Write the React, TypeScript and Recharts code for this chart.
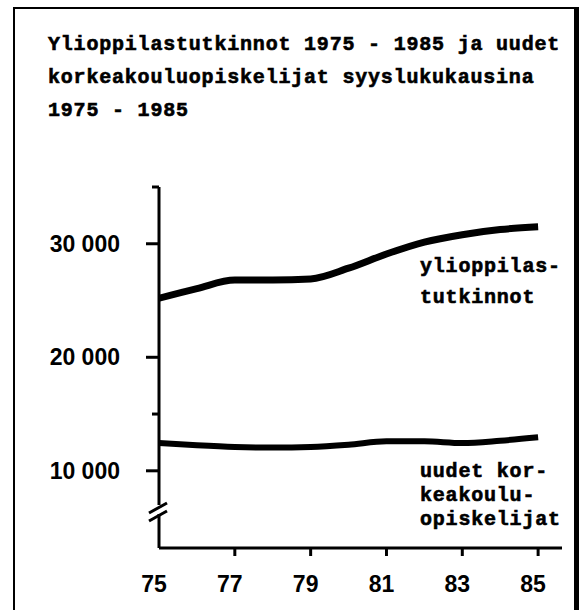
import React from 'react';
import { LineChart, Line, XAxis, YAxis } from 'recharts';

const years = [75, 76, 77, 78, 79, 80, 81, 82, 83, 84, 85];
const ylioppilastutkinnot = [25200, 26050, 26800, 26800, 26900, 27850, 29100, 30150, 30800, 31250, 31500];
const uudetOpiskelijat = [12450, 12250, 12100, 12050, 12100, 12300, 12600, 12600, 12450, 12650, 12950];
const xTicks = [75, 77, 79, 81, 83, 85];
const yTicks = [10000, 15000, 20000, 30000, 35000];
const yLabelled = [10000, 20000, 30000];
const titleLines = [
  'Ylioppilastutkinnot 1975 - 1985 ja uudet',
  'korkeakouluopiskelijat syyslukukausina',
  '1975 - 1985',
];
const upperLabel = ['ylioppilas-', 'tutkinnot'];
const lowerLabel = ['uudet kor-', 'keakoulu-', 'opiskelijat'];

const rows = years.map((y, i) => ({ year: y, yo: ylioppilastutkinnot[i], uk: uudetOpiskelijat[i] }));

const W = 582;
const H = 610;
const MARGIN = { top: 187, right: 20, bottom: 22, left: 99 };
const YW = 60;
const XH = 40;
const AXIS_X = MARGIN.left + YW;
const AXIS_Y = H - MARGIN.bottom - XH;

const monoFont = '"Liberation Mono", "DejaVu Sans Mono", monospace';
const sansFont = '"Liberation Sans", Arial, sans-serif';

const fmt = (v: number) => {
  const s = String(v);
  return s.slice(0, s.length - 3) + ' ' + s.slice(-3);
};

const XTick = (props: any) => {
  const { x, payload } = props;
  const v = payload.value;
  return (
    <g>
      {v !== 75 && <line x1={x} x2={x} y1={AXIS_Y} y2={AXIS_Y + 8} stroke="#000" strokeWidth={3} />}
      <text x={x - 5} y={AXIS_Y + 44} textAnchor="middle" fontFamily={sansFont} fontWeight="bold" fontSize={23} fill="#000">
        {v}
      </text>
    </g>
  );
};

const YTick = (props: any) => {
  const { y, payload } = props;
  const v = payload.value;
  const long = yLabelled.includes(v);
  return (
    <g>
      <line x1={AXIS_X - (long ? 13 : 7)} x2={AXIS_X} y1={y} y2={y} stroke="#000" strokeWidth={3} />
      {long && (
        <text x={120} y={y + 8} textAnchor="end" fontFamily={sansFont} fontWeight="bold" fontSize={23} fill="#000">
          {fmt(v)}
        </text>
      )}
    </g>
  );
};

const textStyle = {
  fontFamily: monoFont,
  fontWeight: 'bold' as const,
  fontSize: 20,
  letterSpacing: 0.8,
  stroke: '#000',
  strokeWidth: 0.6,
};

export default function App() {
  return (
    <div style={{ position: 'absolute', left: 0, top: 0, width: W, height: H, background: '#fff' }}>
      <LineChart width={W} height={H} data={rows} margin={MARGIN}>
        <XAxis
          dataKey="year"
          type="number"
          domain={[75, 85.63]}
          ticks={xTicks}
          interval={0}
          height={XH}
          allowDataOverflow
          axisLine={{ stroke: '#000', strokeWidth: 3 }}
          tickLine={false}
          tick={<XTick />}
        />
        <YAxis
          type="number"
          domain={[3200, 35000]}
          ticks={yTicks}
          interval={0}
          width={YW}
          allowDataOverflow
          axisLine={{ stroke: '#000', strokeWidth: 3 }}
          tickLine={false}
          tick={<YTick />}
        />
        <Line dataKey="yo" type="monotone" stroke="#000" strokeWidth={7} dot={false} isAnimationActive={false} />
        <Line dataKey="uk" type="monotone" stroke="#000" strokeWidth={6} dot={false} isAnimationActive={false} />
      </LineChart>
      <svg width={W} height={H} style={{ position: 'absolute', left: 0, top: 0, pointerEvents: 'none' }}>
        <rect x={13} y={7} width={2} height={H - 7} fill="#000" />
        <rect x={13} y={7} width={565} height={2} fill="#000" />
        <rect x={574} y={7} width={5} height={H - 7} fill="#000" />
        {titleLines.map((t, i) => (
          <text key={i} x={48} y={50 + i * 33} fill="#000" style={textStyle}>{t}</text>
        ))}
        {upperLabel.map((t, i) => (
          <text key={i} x={420} y={272 + i * 31} fill="#000" style={textStyle}>{t}</text>
        ))}
        {lowerLabel.map((t, i) => (
          <text key={i} x={420} y={477 + i * 24} fill="#000" style={textStyle}>{t}</text>
        ))}
        <rect x={154} y={505} width={10} height={9} fill="#fff" />
        <line x1={149} y1={513} x2={167} y2={503} stroke="#000" strokeWidth={3} />
        <line x1={149} y1={521} x2={167} y2={511} stroke="#000" strokeWidth={3} />
      </svg>
    </div>
  );
}
